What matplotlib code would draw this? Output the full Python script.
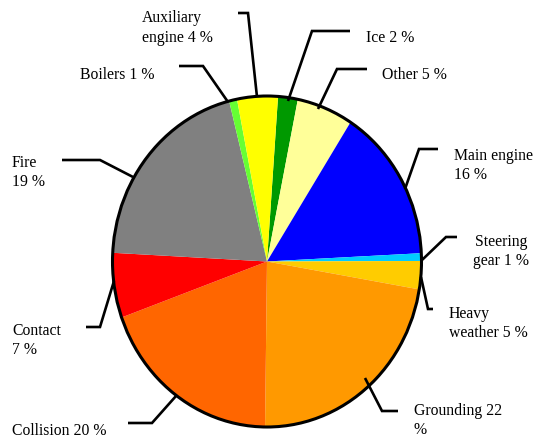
import matplotlib
matplotlib.use("Agg")
import matplotlib.pyplot as plt
from matplotlib.patches import Ellipse

# ---- data (clockwise from the top) ----
categories = ["Ice", "Other", "Main engine", "Steering gear", "Heavy weather",
              "Grounding", "Collision", "Contact", "Fire", "Boilers",
              "Auxiliary engine"]
# shares as drawn in the picture (percent of the pie)
shares = [2.06, 5.89, 15.11, 0.75, 2.75, 22.5, 19.31, 6.33, 20.22, 0.83, 4.25]
# texts printed next to the slices
label_texts = ["Ice 2 %", "Other 5 %", "Main engine\n16 %", "Steering\ngear 1 %",
               "Heavy\nweather 5 %", "Grounding 22\n%", "Collision 20 %",
               "Contact\n7 %", "Fire\n19 %", "Boilers 1 %", "Auxiliary\nengine 4 %"]
colors = ["#009900", "#FFFF99", "#0000FF", "#00CCFF", "#FFCC00", "#FF9900",
          "#FF6600", "#FF0000", "#808080", "#66FF33", "#FFFF00"]

# ---- layout (pixel coordinates of the 536x439 canvas) ----
W, H = 536, 439
cx, cy, rx, ry = 267, 262.5, 154.5, 165.5
start_angle = 85.9

# leader lines: (start on pie, elbow, end) and label anchor
leaders = [
    [(288, 102), (312, 32), (350, 32)],
    [(318, 110), (337, 70), (367, 70)],
    [(405, 190), (419, 150), (438, 150)],
    [(422, 261), (446, 238), (457, 238)],
    [(421, 278), (428, 310), (433, 310)],
    [(365, 379), (382, 412), (398, 412)],
    [(176, 397), (152, 424), (128, 424)],
    [(114, 282), (100, 328), (86, 328)],
    [(133, 178), (100, 161), (62, 161)],
    [(228, 103), (203, 67), (179, 67)],
    [(257, 98), (248, 14), (238, 14)],
]
label_pos = [
    (366, 38, "left"), (382, 75, "left"), (454, 166, "left"), (501, 252, "center"),
    (449, 324, "left"), (414, 421, "left"), (12, 431, "left"), (12, 341, "left"),
    (12, 173, "left"), (155, 75, "right"), (142, 28, "left"),
]

fig = plt.figure(figsize=(W / 100, H / 100), dpi=100)

# pie axes sized to the (slightly elliptical) pie
pax = fig.add_axes([(cx - rx) / W, (H - (cy + ry)) / H, 2 * rx / W, 2 * ry / H])
pax.pie(shares, colors=colors, startangle=start_angle, counterclock=False,
        radius=1, wedgeprops=dict(linewidth=0))
pax.set_aspect("auto")
pax.set_xlim(-1, 1)
pax.set_ylim(-1, 1)
pax.axis("off")
pax.add_patch(Ellipse((0, 0), 2, 2, fill=False, edgecolor="black",
                      linewidth=2.2, clip_on=False, zorder=5))

# overlay axes in pixel coordinates for leaders and labels
ax = fig.add_axes([0, 0, 1, 1])
ax.set_xlim(0, W)
ax.set_ylim(H, 0)
ax.axis("off")

for pts, txt, (tx, ty, ha) in zip(leaders, label_texts, label_pos):
    xs = [p[0] for p in pts]
    ys = [p[1] for p in pts]
    ax.plot(xs, ys, color="black", linewidth=1.9, solid_capstyle="butt",
            solid_joinstyle="miter")
    ax.text(tx, ty, txt, ha=ha, va="center", multialignment=ha,
            fontsize=11.3, family="Liberation Serif", linespacing=1.25,
            color="black")

fig.savefig("out.png", dpi=100)
